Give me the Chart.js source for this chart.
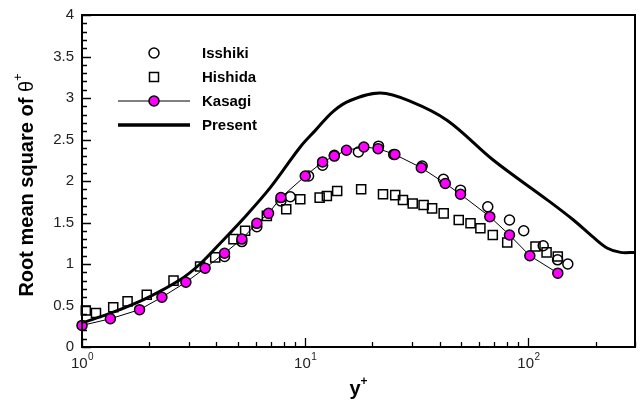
<!DOCTYPE html>
<html>
<head>
<meta charset="UTF-8">
<title>Root mean square of theta+</title>
<script src="https://cdn.jsdelivr.net/npm/chart.js"></script>
<style>
  html, body { margin: 0; padding: 0; background: #fff; }
  #wrap { width: 644px; height: 402px; }
</style>
</head>
<body>
<div id="wrap"><canvas id="grafico" width="644" height="402"></canvas></div>
<script>
// dados
const isshikiX = [4.35, 5.2, 6.07, 7.78, 8.57, 10.35, 11.96, 13.5, 17.3, 21.3, 24.9, 33.4, 41.6, 49.6, 65.7, 82.2, 95.2, 116.4, 135, 150];
const isshikiY = [1.09, 1.27, 1.45, 1.76, 1.81, 2.06, 2.19, 2.31, 2.35, 2.42, 2.32, 2.18, 2.02, 1.89, 1.69, 1.53, 1.40, 1.22, 1.05, 1.00];

const hishidaX = [1.04, 1.155, 1.38, 1.60, 1.95, 2.57, 3.38, 3.95, 4.77, 5.38, 6.73, 8.22, 9.5, 11.6, 12.5, 13.9, 17.8, 22.3, 25.3, 27.4, 30.3, 33.9, 37.0, 41.7, 48.7, 55.0, 60.9, 69.2, 80.3, 107.5, 120.5, 135.3];
const hishidaY = [0.44, 0.41, 0.48, 0.55, 0.63, 0.80, 0.97, 1.08, 1.30, 1.40, 1.58, 1.66, 1.78, 1.80, 1.82, 1.88, 1.90, 1.84, 1.83, 1.77, 1.73, 1.71, 1.67, 1.61, 1.53, 1.49, 1.43, 1.35, 1.26, 1.21, 1.14, 1.09];

const kasagiX = [1.0, 1.34, 1.81, 2.28, 2.92, 3.56, 4.35, 5.2, 6.07, 6.85, 7.78, 10.0, 11.96, 13.5, 15.3, 18.3, 21.2, 25.2, 33.1, 42.4, 49.6, 67.1, 82.2, 101.4, 135.3];
const kasagiY = [0.26, 0.34, 0.45, 0.60, 0.78, 0.95, 1.13, 1.30, 1.49, 1.61, 1.80, 2.06, 2.23, 2.30, 2.37, 2.41, 2.39, 2.32, 2.16, 1.97, 1.84, 1.57, 1.35, 1.10, 0.89];

const presentX = [1.0, 1.38, 1.95, 2.75, 3.38, 4.16, 5.38, 6.97, 9.5, 11.1, 13.35, 15.9, 21.7, 29.6, 43.3, 69.7, 121.7, 159, 195.6, 226, 258.6, 300];
const presentY = [0.29, 0.42, 0.59, 0.81, 1.0, 1.25, 1.57, 1.92, 2.41, 2.61, 2.84, 2.97, 3.06, 2.96, 2.73, 2.25, 1.77, 1.53, 1.32, 1.19, 1.14, 1.14];

const yTicks = [0, 0.5, 1, 1.5, 2, 2.5, 3, 3.5, 4];
const xDecadas = [1, 10, 100];
const xExpoentes = ['0', '1', '2'];
const legendaNomes = ['Isshiki', 'Hishida', 'Kasagi', 'Present'];

function pontos(xs, ys) {
    return xs.map((x, i) => ({ x: x, y: ys[i] }));
}

// eixos, moldura e legenda desenhados à mão
const molduraPlugin = {
    id: 'moldura',
    afterDraw(chart) {
        const ctx = chart.ctx;
        const area = chart.chartArea;
        const sx = chart.scales.x;
        const sy = chart.scales.y;
        ctx.save();
        ctx.strokeStyle = '#000';
        ctx.fillStyle = '#000';

        // ticks do eixo y
        ctx.lineWidth = 1.3;
        ctx.beginPath();
        for (let i = 0; i <= 40; i++) {
            const py = Math.round(sy.getPixelForValue(i / 10)) + 0.5;
            const len = (i % 5 === 0) ? 9 : 5;
            ctx.moveTo(area.left, py);
            ctx.lineTo(area.left + len, py);
        }
        // ticks do eixo x
        for (let d = 1; d <= 100; d *= 10) {
            for (let m = 1; m <= 9; m++) {
                const v = d * m;
                if (v > 300) break;
                const px = Math.round(sx.getPixelForValue(v)) + 0.5;
                const len = (m === 1) ? 9 : 5;
                ctx.moveTo(px, area.bottom);
                ctx.lineTo(px, area.bottom - len);
            }
        }
        ctx.stroke();

        // moldura
        ctx.lineWidth = 2;
        ctx.strokeRect(area.left, area.top, area.right - area.left, area.bottom - area.top);

        // rótulos y
        ctx.font = '15px "Liberation Sans", Arial, sans-serif';
        ctx.textAlign = 'right';
        ctx.textBaseline = 'middle';
        ctx.fillStyle = '#222';
        yTicks.forEach(v => {
            ctx.fillText(String(v), area.left - 8, sy.getPixelForValue(v));
        });

        // rótulos x (10 com expoente)
        ctx.textBaseline = 'alphabetic';
        ctx.textAlign = 'left';
        xDecadas.forEach((v, i) => {
            ctx.font = '15px "Liberation Sans", Arial, sans-serif';
            const w1 = ctx.measureText('10').width;
            ctx.font = '10px "Liberation Sans", Arial, sans-serif';
            const w2 = ctx.measureText(xExpoentes[i]).width;
            const x0 = sx.getPixelForValue(v) - (w1 + w2) / 2;
            ctx.font = '15px "Liberation Sans", Arial, sans-serif';
            ctx.fillText('10', x0, 368);
            ctx.font = '10px "Liberation Sans", Arial, sans-serif';
            ctx.fillText(xExpoentes[i], x0 + w1 + 0.5, 360);
        });

        // título x
        ctx.fillStyle = '#000';
        ctx.font = 'bold 20px "Liberation Sans", Arial, sans-serif';
        const wy = ctx.measureText('y').width;
        ctx.font = 'bold 12px "Liberation Sans", Arial, sans-serif';
        const wp = ctx.measureText('+').width;
        const cx = (area.left + area.right) / 2;
        ctx.font = 'bold 20px "Liberation Sans", Arial, sans-serif';
        ctx.fillText('y', cx - (wy + wp) / 2, 395);
        ctx.font = 'bold 12px "Liberation Sans", Arial, sans-serif';
        ctx.fillText('+', cx - (wy + wp) / 2 + wy, 385);

        // título y (rotacionado)
        ctx.save();
        ctx.translate(33, 185);
        ctx.rotate(-Math.PI / 2);
        const t1 = 'Root mean square of ';
        ctx.font = 'bold 20px "Liberation Sans", Arial, sans-serif';
        const w1 = ctx.measureText(t1).width;
        ctx.font = '20px "Liberation Sans", Arial, sans-serif';
        const w2 = ctx.measureText('θ').width;
        ctx.font = '13px "Liberation Sans", Arial, sans-serif';
        const w3 = ctx.measureText('+').width;
        let x0 = -(w1 + w2 + w3) / 2;
        ctx.font = 'bold 20px "Liberation Sans", Arial, sans-serif';
        ctx.fillText(t1, x0, 0);
        ctx.font = '20px "Liberation Sans", Arial, sans-serif';
        ctx.fillText('θ', x0 + w1, 0);
        ctx.font = '13px "Liberation Sans", Arial, sans-serif';
        ctx.fillText('+', x0 + w1 + w2, -11);
        ctx.restore();

        // legenda
        const lx = 154, tx = 202;
        const ly = [53, 77, 101, 125];
        ctx.lineWidth = 1.5;
        ctx.beginPath();
        ctx.arc(lx, ly[0], 5, 0, Math.PI * 2);
        ctx.stroke();
        ctx.strokeRect(lx - 4.5, ly[1] - 4.5, 9, 9);
        ctx.lineWidth = 1;
        ctx.beginPath();
        ctx.moveTo(118, ly[2]);
        ctx.lineTo(190, ly[2]);
        ctx.stroke();
        ctx.lineWidth = 1.5;
        ctx.fillStyle = '#ff00ff';
        ctx.beginPath();
        ctx.arc(lx, ly[2], 5, 0, Math.PI * 2);
        ctx.fill();
        ctx.stroke();
        ctx.lineWidth = 3.5;
        ctx.beginPath();
        ctx.moveTo(118, ly[3]);
        ctx.lineTo(190, ly[3]);
        ctx.stroke();

        ctx.fillStyle = '#000';
        ctx.font = 'bold 15px "Liberation Sans", Arial, sans-serif';
        ctx.textBaseline = 'middle';
        legendaNomes.forEach((n, i) => ctx.fillText(n, tx, ly[i] + 1));
        ctx.restore();
    }
};

const ctx = document.getElementById('grafico').getContext('2d');
new Chart(ctx, {
    type: 'scatter',
    data: {
        datasets: [
            {
                label: 'Hishida',
                data: pontos(hishidaX, hishidaY),
                showLine: false,
                pointStyle: 'rect',
                pointRadius: 6.4,
                pointBorderWidth: 1.5,
                pointBorderColor: '#000',
                pointBackgroundColor: 'rgba(0,0,0,0)',
                clip: false,
                order: 4
            },
            {
                label: 'Present',
                data: pontos(presentX, presentY),
                showLine: true,
                borderColor: '#000',
                borderWidth: 3,
                pointRadius: 0,
                tension: 0.35,
                order: 3
            },
            {
                label: 'Isshiki',
                data: pontos(isshikiX, isshikiY),
                showLine: false,
                pointStyle: 'circle',
                pointRadius: 5,
                pointBorderWidth: 1.5,
                pointBorderColor: '#000',
                pointBackgroundColor: 'rgba(0,0,0,0)',
                clip: false,
                order: 2
            },
            {
                label: 'Kasagi',
                data: pontos(kasagiX, kasagiY),
                showLine: true,
                borderColor: '#000',
                borderWidth: 1,
                pointStyle: 'circle',
                pointRadius: 5,
                pointBorderWidth: 1.5,
                pointBorderColor: '#000',
                pointBackgroundColor: '#ff00ff',
                clip: false,
                order: 1
            }
        ]
    },
    options: {
        responsive: false,
        animation: false,
        devicePixelRatio: 1,
        layout: { padding: { left: 82, top: 15, right: 9, bottom: 55 } },
        plugins: {
            legend: { display: false },
            tooltip: { enabled: false }
        },
        scales: {
            x: { type: 'logarithmic', min: 1, max: 300, display: false },
            y: { type: 'linear', min: 0, max: 4, display: false }
        }
    },
    plugins: [molduraPlugin]
});
</script>
</body>
</html>
